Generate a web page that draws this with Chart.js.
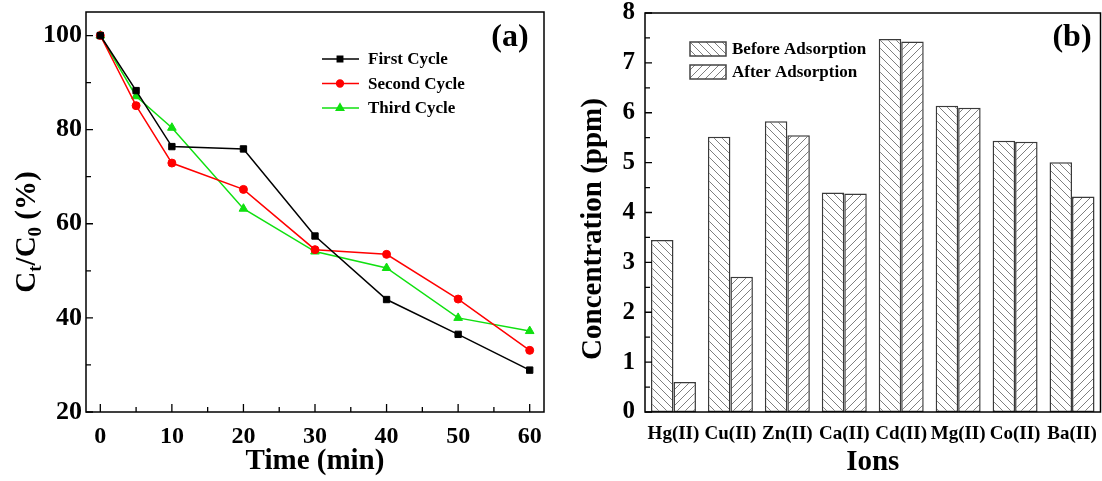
<!DOCTYPE html>
<html><head><meta charset="utf-8">
<script src="https://cdn.jsdelivr.net/npm/chart.js@4/dist/chart.umd.min.js"></script>
<style>
html,body{margin:0;padding:0;background:#fff;}
#wrap{position:relative;width:1102px;height:481px;overflow:hidden;background:#fff;}
#ca{position:absolute;left:0;top:0;}
#cb{position:absolute;left:560px;top:0;}
</style></head><body>
<div id="wrap">
<canvas id="ca" width="560" height="481"></canvas>
<canvas id="cb" width="542" height="481"></canvas>
</div>
<script>
// ---- Panel (a) data ----
const times = [0, 5, 10, 20, 30, 40, 50, 60];
const firstCycle  = [100, 88.3, 76.4, 75.9, 57.4, 43.9, 36.5, 28.9];
const secondCycle = [100, 85.1, 72.9, 67.3, 54.5, 53.5, 44.0, 33.1];
const thirdCycle  = [100, 87.1, 80.4, 63.2, 54.1, 50.6, 40.0, 37.2];
const timeTicks = [0, 10, 20, 30, 40, 50, 60];
const timeMinorTicks = [5, 15, 25, 35, 45, 55];
const ratioTicks = [20, 40, 60, 80, 100];
const ratioMinorTicks = [30, 50, 70, 90];

// ---- Panel (b) data ----
const ions = ['Hg(II)', 'Cu(II)', 'Zn(II)', 'Ca(II)', 'Cd(II)', 'Mg(II)', 'Co(II)', 'Ba(II)'];
const beforeAdsorption = [3.45, 5.52, 5.83, 4.40, 7.48, 6.14, 5.44, 5.01];
const afterAdsorption  = [0.60, 2.71, 5.55, 4.38, 7.43, 6.10, 5.42, 4.32];
const concTicks = [0, 1, 2, 3, 4, 5, 6, 7, 8];
const concMinorTicks = [0.5, 1.5, 2.5, 3.5, 4.5, 5.5, 6.5, 7.5];

const FONT = 'Liberation Serif';
const f = (size) => ({family: FONT, weight: 'bold', size: size});

function hatch(dir) {
  const c = document.createElement('canvas');
  c.width = 8; c.height = 8;
  const x = c.getContext('2d');
  x.fillStyle = '#fff'; x.fillRect(0, 0, 8, 8);
  x.strokeStyle = '#707070'; x.lineWidth = 0.9;
  x.beginPath();
  if (dir === 'back') {
    x.moveTo(-4, -4); x.lineTo(12, 12);
    x.moveTo(-4, 4); x.lineTo(4, 12);
    x.moveTo(4, -4); x.lineTo(12, 4);
  } else {
    x.moveTo(-4, 12); x.lineTo(12, -4);
    x.moveTo(-4, 4); x.lineTo(4, -4);
    x.moveTo(4, 12); x.lineTo(12, 4);
  }
  x.stroke();
  return x.createPattern(c, 'repeat');
}

function frameAndTicks(opts) {
  return {
    id: 'frameTicks',
    afterDraw(chart) {
      const {ctx, chartArea: a, scales} = chart;
      ctx.save();
      ctx.strokeStyle = '#000';
      ctx.lineWidth = 1.5;
      ctx.strokeRect(a.left, a.top, a.right - a.left, a.bottom - a.top);
      ctx.lineWidth = 1.3;
      ctx.beginPath();
      if (opts.xMajor) {
        opts.xMajor.forEach(v => { const px = scales.x.getPixelForValue(v); ctx.moveTo(px, a.bottom); ctx.lineTo(px, a.bottom - 8); });
        opts.xMinor.forEach(v => { const px = scales.x.getPixelForValue(v); ctx.moveTo(px, a.bottom); ctx.lineTo(px, a.bottom - 5); });
      }
      opts.yMajor.forEach(v => { const py = scales.y.getPixelForValue(v); ctx.moveTo(a.left, py); ctx.lineTo(a.left + 7, py); });
      opts.yMinor.forEach(v => { const py = scales.y.getPixelForValue(v); ctx.moveTo(a.left, py); ctx.lineTo(a.left + 5, py); });
      ctx.stroke();
      ctx.restore();
    }
  };
}

function fixX(h) {
  return s => { s.height = h; s.paddingLeft = 0; s.paddingRight = 0; };
}
function fixY(w) {
  return s => { s.width = w; s.paddingTop = 0; s.paddingBottom = 0; };
}

// ---------- Chart (a) ----------
const lineSets = [
  {label: 'First Cycle', vals: firstCycle, color: '#000000', style: 'rect', r: 4.5},
  {label: 'Second Cycle', vals: secondCycle, color: '#ff0000', style: 'circle', r: 4},
  {label: 'Third Cycle', vals: thirdCycle, color: '#10e010', style: 'triangle', r: 5}
];

const legendA = {
  id: 'legendA',
  afterDraw(chart) {
    const ctx = chart.ctx;
    ctx.save();
    const rows = [59, 83.5, 108];
    lineSets.forEach((s, i) => {
      const y = rows[i];
      ctx.strokeStyle = s.color; ctx.fillStyle = s.color; ctx.lineWidth = 1.5;
      ctx.beginPath(); ctx.moveTo(322, y); ctx.lineTo(359, y); ctx.stroke();
      Chart.helpers.drawPoint(ctx, {pointStyle: s.style, radius: s.r * 0.85, rotation: 0, borderWidth: 1}, 340, y);
      ctx.fillStyle = '#000';
      ctx.font = 'bold 17px "' + FONT + '"';
      ctx.textBaseline = 'middle'; ctx.textAlign = 'left';
      ctx.fillText(s.label, 368, y + 1);
    });
    ctx.font = 'bold 32px "' + FONT + '"';
    ctx.textAlign = 'center';
    ctx.fillText('(a)', 510, 38);
    // y title with subscripts
    ctx.translate(35, 232);
    ctx.rotate(-Math.PI / 2);
    ctx.textAlign = 'left'; ctx.textBaseline = 'alphabetic';
    const big = 'bold 29px "' + FONT + '"', small = 'bold 19px "' + FONT + '"';
    const parts = [['C', big, 0], ['t', small, 6], ['/C', big, 0], ['0', small, 6], [' (%)', big, 0]];
    let total = 0;
    parts.forEach(p => { ctx.font = p[1]; total += ctx.measureText(p[0]).width; });
    let x = -total / 2;
    parts.forEach(p => { ctx.font = p[1]; ctx.fillText(p[0], x, p[2]); x += ctx.measureText(p[0]).width; });
    ctx.restore();
  }
};

new Chart(document.getElementById('ca'), {
  type: 'line',
  data: {
    datasets: lineSets.map(s => ({
      label: s.label,
      data: times.map((t, i) => ({x: t, y: s.vals[i]})),
      borderColor: s.color, backgroundColor: s.color,
      pointStyle: s.style, pointRadius: s.r, pointBorderWidth: 1,
      borderWidth: 1.5, tension: 0, fill: false
    }))
  },
  options: {
    responsive: false, animation: false,
    layout: {padding: {left: 0, right: 16, top: 12, bottom: 0}},
    plugins: {legend: {display: false}, tooltip: {enabled: false}},
    scales: {
      x: {
        type: 'linear', min: -2, max: 62,
        afterBuildTicks: s => { s.ticks = timeTicks.map(v => ({value: v})); },
        afterFit: fixX(69),
        grid: {display: false, drawTicks: false}, border: {display: false},
        ticks: {padding: 10, color: '#000', font: f(24), maxRotation: 0},
        title: {display: true, text: 'Time (min)', color: '#000', font: f(29), padding: {top: 0, bottom: 2}}
      },
      y: {
        min: 20, max: 105,
        afterBuildTicks: s => { s.ticks = ratioTicks.map(v => ({value: v})); },
        afterFit: fixY(86),
        grid: {display: false, drawTicks: false}, border: {display: false},
        ticks: {padding: 4, color: '#000', font: f(26)}
      }
    }
  },
  plugins: [frameAndTicks({xMajor: timeTicks, xMinor: timeMinorTicks, yMajor: ratioTicks, yMinor: ratioMinorTicks}), legendA]
});

// ---------- Chart (b) ----------
const patBefore = hatch('back');
const patAfter = hatch('fwd');

const legendB = {
  id: 'legendB',
  afterDraw(chart) {
    const ctx = chart.ctx;
    ctx.save();
    const items = [['Before Adsorption', patBefore, 42], ['After Adsorption', patAfter, 65]];
    items.forEach(it => {
      ctx.fillStyle = it[1];
      ctx.fillRect(130, it[2], 36, 14);
      ctx.strokeStyle = '#444'; ctx.lineWidth = 1.5;
      ctx.strokeRect(130, it[2], 36, 14);
      ctx.fillStyle = '#000';
      ctx.font = 'bold 17px "' + FONT + '"';
      ctx.textBaseline = 'middle'; ctx.textAlign = 'left';
      ctx.fillText(it[0], 172, it[2] + 8);
    });
    ctx.font = 'bold 32px "' + FONT + '"';
    ctx.textAlign = 'center';
    ctx.fillText('(b)', 512, 38);
    ctx.translate(41, 229);
    ctx.rotate(-Math.PI / 2);
    ctx.textAlign = 'center'; ctx.textBaseline = 'alphabetic';
    ctx.font = 'bold 29px "' + FONT + '"';
    ctx.fillText('Concentration (ppm)', 0, 0);
    ctx.restore();
  }
};

new Chart(document.getElementById('cb'), {
  type: 'bar',
  data: {
    labels: ions,
    datasets: [
      {label: 'Before Adsorption', data: beforeAdsorption, backgroundColor: patBefore, borderColor: '#3a3a3a', borderWidth: 1.5, borderSkipped: false, barPercentage: 1, categoryPercentage: 0.79},
      {label: 'After Adsorption', data: afterAdsorption, backgroundColor: patAfter, borderColor: '#3a3a3a', borderWidth: 1.5, borderSkipped: false, barPercentage: 1, categoryPercentage: 0.79}
    ]
  },
  options: {
    responsive: false, animation: false,
    layout: {padding: {left: 0, right: 1.5, top: 13, bottom: 0}},
    plugins: {legend: {display: false}, tooltip: {enabled: false}},
    scales: {
      x: {
        afterFit: fixX(69),
        grid: {display: false, drawTicks: false}, border: {display: false},
        ticks: {padding: 11, color: '#000', font: f(19), maxRotation: 0, autoSkip: false},
        title: {display: true, text: 'Ions', color: '#000', font: f(29), padding: {top: 0, bottom: 1}}
      },
      y: {
        min: 0, max: 8,
        afterBuildTicks: s => { s.ticks = concTicks.map(v => ({value: v})); },
        afterFit: fixY(85),
        grid: {display: false, drawTicks: false}, border: {display: false},
        ticks: {padding: 10, color: '#000', font: f(25)}
      }
    }
  },
  plugins: [frameAndTicks({yMajor: concTicks, yMinor: concMinorTicks}), legendB]
});
</script>
</body></html>
